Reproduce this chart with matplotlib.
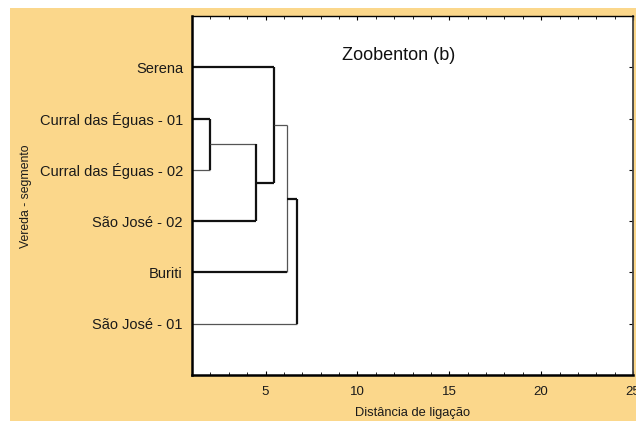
"""Zoobenton (b): dendrogram of vereda segments (linkage distance)."""
import matplotlib
matplotlib.use("Agg")
import matplotlib.pyplot as plt
from matplotlib.patches import Rectangle

plt.rcParams["font.family"] = ["Liberation Sans", "DejaVu Sans"]

# leaves, top to bottom
leaves = ["Serena", "Curral das Éguas - 01", "Curral das Éguas - 02",
          "São José - 02", "Buriti", "São José - 01"]
# merges: (left member, right member, linkage distance)
merges = [
    ("Curral das Éguas - 01", "Curral das Éguas - 02", 2.0),
    ("m0", "São José - 02", 4.5),
    ("Serena", "m1", 5.45),
    ("m2", "Buriti", 6.15),
    ("m3", "São José - 01", 6.7),
]
# line weight of each branch (as seen in the scan: mix of heavy and light strokes)
heavy = {"Curral das Éguas - 01": True, "Curral das Éguas - 02": False,
         "m0": False, "São José - 02": True, "Serena": True, "m1": True,
         "m2": False, "Buriti": True, "m3": True, "São José - 01": False}
vheavy = [True, True, True, False, True]

BG = "#fbd78b"
fig = plt.figure(figsize=(6.36, 4.21), dpi=100, facecolor=BG)
fig.patches.append(Rectangle((0, 0), 10 / 636, 1, transform=fig.transFigure,
                             facecolor="white", edgecolor="none", zorder=-1))
fig.patches.append(Rectangle((0, 1 - 8 / 421), 1, 8 / 421, transform=fig.transFigure,
                             facecolor="white", edgecolor="none", zorder=-1))
ax = fig.add_axes([192 / 636, 1 - 375 / 421, 441 / 636, 359 / 421])

n = len(leaves)
pos = {name: (n - i, 1.0) for i, name in enumerate(leaves)}  # y, x of node
for k, (a, b, h) in enumerate(merges):
    for m in (a, b):
        y, x0 = pos[m]
        lw, c = (1.6, "#111111") if heavy[m] else (0.9, "#555555")
        ax.plot([x0, h], [y, y], color=c, lw=lw, solid_capstyle="butt")
    ya, yb = pos[a][0], pos[b][0]
    lw, c = (1.6, "#111111") if vheavy[k] else (0.9, "#555555")
    ax.plot([h, h], [ya, yb], color=c, lw=lw, solid_capstyle="butt")
    pos[f"m{k}"] = ((ya + yb) / 2, h)

ax.set_xlim(1, 25)
ax.set_ylim(0, n + 1)
ax.set_xticks([5, 10, 15, 20, 25])
ax.set_xticks(range(1, 26), minor=True)
ax.set_yticks([n - i for i in range(n)])
ax.set_yticklabels(leaves, fontsize=10.5, color="#1a1a1a")
ax.tick_params(axis="x", which="major", direction="in", length=3, top=True,
               labelsize=9.5, pad=8, labelcolor="#1a1a1a")
ax.tick_params(axis="x", which="minor", direction="in", length=2, top=True)
ax.tick_params(axis="y", direction="in", length=3, left=False, right=True, pad=6.5)
for side, lw in [("left", 1.8), ("bottom", 1.8), ("top", 1.0), ("right", 1.3)]:
    ax.spines[side].set_linewidth(lw)
ax.spines["right"].set_color("#444444")

ax.text(0.34, 0.891, "Zoobenton (b)", transform=ax.transAxes, fontsize=13,
        color="#111111", va="center")
fig.text(413 / 636, 1 - 413 / 421, "Distância de ligação", fontsize=9.3,
         ha="center", va="center", color="#1a1a1a")
fig.text(26 / 636, 1 - 196 / 421, "Vereda - segmento", fontsize=8.8, rotation=90,
         ha="center", va="center", color="#1a1a1a")

fig.savefig("out.png", dpi=100, facecolor=BG)
